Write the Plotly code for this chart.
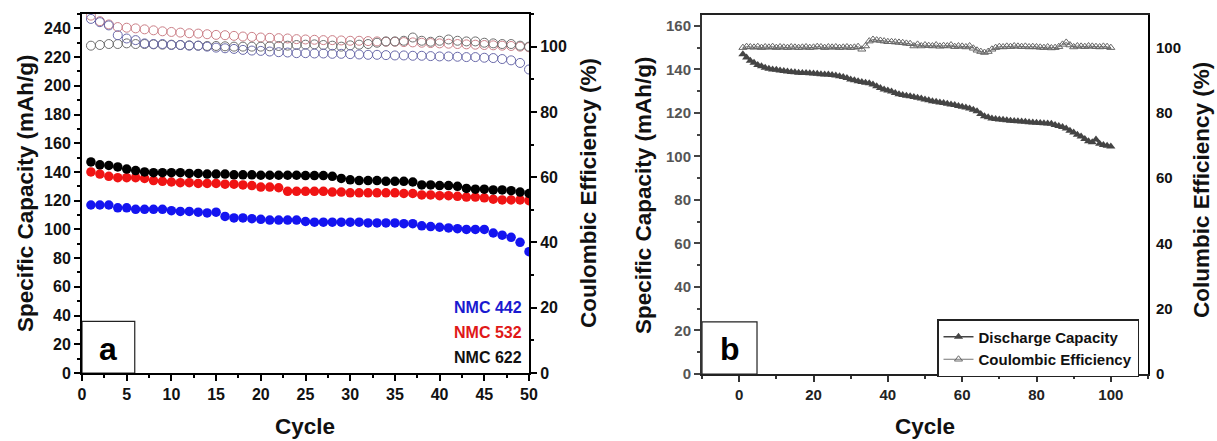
import plotly.graph_objects as go

# ---------------- Panel a data ----------------
cycles_a = list(range(1, 51))

cap_nmc442 = [117, 117, 117, 115, 115, 114, 114, 114, 114, 113,
              112.5, 112.5, 112, 111.5, 112, 109, 108, 108, 107.5, 107,
              106.5, 106.5, 106.5, 106.5, 105.5, 105, 105, 105, 105, 105,
              105, 104.5, 104.5, 104.5, 104.5, 104, 104, 102.5, 102, 101.5,
              101, 100.5, 100, 100, 100, 97.5, 96, 94.5, 91, 84.5]

cap_nmc532 = [140, 138.5, 137, 136, 136, 136, 135.5, 134, 133.5, 133,
              132.5, 132.5, 132, 132, 132, 131.5, 131.5, 131, 130.5, 129.5,
              129.5, 129, 126.5, 126.5, 126.5, 126.5, 126.5, 126, 126, 125.5,
              125.5, 125.5, 125.5, 125.5, 125.5, 125, 125, 124, 124, 123.5,
              123.5, 123, 122.5, 122.5, 122, 121, 120.5, 120.5, 120.5, 120]

cap_nmc622 = [147, 145, 144.5, 143.5, 142, 141, 140, 139.5, 139.5, 139.5,
              139.5, 139, 139, 138.5, 138.5, 138.5, 138, 138, 138, 137.7,
              137.7, 137.7, 137.7, 137.7, 137.5, 137.5, 137.5, 137, 135.5, 134.5,
              134, 134, 134, 133.5, 133.5, 133.5, 133, 131, 131, 130.5,
              130.5, 130, 128.5, 128, 128, 127.5, 127.5, 127, 126, 125]

ce_nmc442 = [108.5, 107.5, 106.5, 103.5, 102.5, 102, 101, 100.8, 100.8, 100.5,
             100.5, 100.3, 100.3, 100, 99.7, 99.5, 99.3, 99, 98.8, 98.7,
             98.5, 98.3, 98.2, 98, 98, 97.9, 97.9, 97.8, 97.8, 97.7,
             97.6, 97.5, 97.5, 97.4, 97.3, 97.3, 97.2, 97.2, 97.1, 97,
             97, 96.9, 96.8, 96.8, 96.6, 96.5, 96.2, 95.8, 95, 93]

ce_nmc532 = [109.5, 107.8, 106.8, 106, 105.8, 105.6, 105.3, 105, 104.7, 104.5,
             104.3, 104.1, 104, 103.8, 103.6, 103.5, 103.3, 103.1, 103, 102.8,
             102.7, 102.6, 102.5, 102.3, 102.2, 102.1, 102, 102, 101.9, 101.8,
             101.8, 101.7, 101.6, 101.5, 101.5, 101.4, 101.3, 101.2, 101.1, 101,
             100.9, 100.8, 100.7, 100.6, 100.5, 100.4, 100.3, 100.2, 100, 99.8]

ce_nmc622 = [100.3, 100.5, 100.8, 100.8, 101, 100.8, 100.8, 100.7, 100.6, 100.6,
             100.5, 100.4, 100.3, 100.2, 100.2, 100.1, 100, 100, 100, 100,
             100.1, 100.2, 100.3, 100.5, 100.6, 100.7, 100.5, 100.3, 100, 100.4,
             100.6, 100.8, 101.2, 101.6, 101.6, 101.8, 102.8, 101.8, 101.5, 101.8,
             102.2, 101.8, 101.6, 101.6, 101.2, 101, 100.8, 100.8, 100.3, 100]

# ---------------- Panel b data ----------------
cycles_b = list(range(1, 101))

discharge_b = [147, 145.5, 144, 143, 142, 141.5, 140.8, 140.3, 140, 139.8,
               139.5, 139.3, 139, 138.8, 138.7, 138.5, 138.4, 138.3, 138.2, 138.1,
               138, 137.8, 137.7, 137.6, 137.4, 137.2, 136.8, 136.5, 136, 135.4,
               135, 134.6, 134.2, 133.9, 133.6, 133, 132.3, 131.5, 130.8, 130.3,
               129.8, 129.2, 128.6, 128.2, 127.9, 127.6, 127.3, 127, 126.6, 126.2,
               125.8, 125.4, 125.1, 124.8, 124.5, 124.2, 123.9, 123.6, 123.2, 122.8,
               122.5, 122, 121.4, 120.8, 119.5, 118.5, 118, 117.4, 117.2, 117,
               116.8, 116.6, 116.4, 116.3, 116.2, 116, 115.9, 115.7, 115.6, 115.5,
               115.4, 115.2, 115.1, 115, 114.5, 114, 113.5, 112.8, 111.8, 111,
               110, 109.2, 108, 107, 106.5, 107.8, 105.8, 105.2, 104.9, 104.6]

ce_b = [100, 100.3, 100.2, 100.1, 100.3, 100, 100.2, 100.1, 100.3, 100,
        100.2, 100.1, 100, 100.2, 100.1, 100, 100.1, 100.2, 100, 100.1,
        100.3, 100.2, 100, 100.2, 100.1, 100.2, 100, 100.1, 100.2, 100,
        100.1, 100.3, 99.5, 100.5, 102, 102.5, 102.3, 102.2, 102, 101.8,
        101.8, 101.7, 101.6, 101.5, 101.3, 101.2, 100.5, 101, 100.5, 100.8,
        100.6, 100.5, 100.8, 100.4, 100.6, 100.5, 100.8, 100.3, 100.5, 100.4,
        100.2, 100.5, 99.8, 99.2, 98.8, 98.5, 98.8, 99.5, 100, 100.3,
        100.2, 100.4, 100.3, 100.5, 100.4, 100.3, 100.4, 100.2, 100.3, 100.2,
        100.1, 100, 100.2, 99.9, 100, 100.3, 101, 101.6, 100.8, 100.2,
        100.5, 100.4, 100.3, 100.5, 100.4, 100.3, 100.2, 100.4, 100.3, 100]

series_labels_a = ["NMC 442", "NMC 532", "NMC 622"]
legend_labels_b = ["Discharge Capacity", "Coulombic Efficiency"]

W, H = 1217, 441
FONT = "Arial, Liberation Sans, sans-serif"


def px(x):
    return x / W


def py(y):
    return 1 - y / H


fig = go.Figure()

# Panel a: open circles (CE, right axis)
for vals, col in [(ce_nmc532, "#cc8088"), (ce_nmc622, "#6e6e6e"), (ce_nmc442, "#6a6aaa")]:
    fig.add_trace(go.Scatter(x=cycles_a, y=vals, mode="markers", xaxis="x", yaxis="y2",
                             marker=dict(symbol="circle-open", size=9, color=col,
                                         line=dict(width=1, color=col)),
                             showlegend=False, cliponaxis=True))

# Panel a: filled circles (capacity, left axis)
for vals, col in [(cap_nmc442, "#1414f0"), (cap_nmc532, "#f01414"), (cap_nmc622, "#000000")]:
    fig.add_trace(go.Scatter(x=cycles_a, y=vals, mode="markers", xaxis="x", yaxis="y",
                             marker=dict(symbol="circle", size=9.5, color=col),
                             showlegend=False, cliponaxis=True))

# Panel b
fig.add_trace(go.Scatter(x=cycles_b, y=discharge_b, mode="lines+markers", xaxis="x2", yaxis="y3",
                         name=legend_labels_b[0],
                         line=dict(color="#444444", width=1.5),
                         marker=dict(symbol="triangle-up", size=8, color="#444444"),
                         showlegend=True))
fig.add_trace(go.Scatter(x=cycles_b, y=ce_b, mode="lines+markers", xaxis="x2", yaxis="y4",
                         name=legend_labels_b[1],
                         line=dict(color="#777777", width=1),
                         marker=dict(symbol="triangle-up-open", size=7, color="#666666",
                                     line=dict(width=1, color="#666666")),
                         showlegend=True))

tickfont_a = dict(family=FONT, size=16, color="#111111", weight="bold")
tickfont_bl = dict(family=FONT, size=15, color="#555555", weight="bold")
tickfont_bx = dict(family=FONT, size=15, color="#222222", weight="bold")

common_axis = dict(showgrid=False, zeroline=False, showline=True, linecolor="#000000",
                   linewidth=2, ticks="outside", ticklen=6, tickwidth=2, tickcolor="#000000",
                   automargin=False)

fig.update_layout(
    width=W, height=H,
    margin=dict(l=0, r=0, t=0, b=0, autoexpand=False),
    paper_bgcolor="white", plot_bgcolor="white",
    xaxis=dict(domain=[px(82), px(529)], range=[0, 50], dtick=5, tick0=0,
               tickfont=tickfont_a, mirror=True, anchor="y",
               minor=dict(ticks="outside", dtick=2.5, ticklen=3, tickwidth=1.5, tickcolor="#000"),
               **common_axis),
    yaxis=dict(domain=[py(373), py(14)], range=[0, 250], dtick=20, tick0=0,
               tickfont=tickfont_a, anchor="x",
               minor=dict(ticks="outside", dtick=10, ticklen=3, tickwidth=1.5, tickcolor="#000"),
               **common_axis),
    yaxis2=dict(overlaying="y", side="right", anchor="x", range=[0, 110], dtick=20, tick0=0,
                tickfont=tickfont_a,
                minor=dict(ticks="outside", dtick=10, ticklen=3, tickwidth=1.5, tickcolor="#000"),
                **common_axis),
    xaxis2=dict(domain=[px(702), px(1148)], range=[-10, 110], dtick=20, tick0=0,
                tickfont=tickfont_bx, mirror=True, anchor="y3", automargin=False,
                minor=dict(ticks="outside", dtick=10, ticklen=3, tickwidth=1.5, tickcolor="#333"),
                showgrid=False, zeroline=False, showline=True, linecolor="#222222",
                linewidth=2, ticks="outside", ticklen=6, tickwidth=2, tickcolor="#333333"),
    yaxis3=dict(domain=[py(374), py(15)], range=[0, 165], dtick=20, tick0=0,
                tickfont=tickfont_bl, anchor="x2", automargin=False,
                minor=dict(ticks="outside", dtick=10, ticklen=3, tickwidth=1.5, tickcolor="#444"),
                showgrid=False, zeroline=False, showline=True, linecolor="#333333",
                linewidth=2, ticks="outside", ticklen=6, tickwidth=2, tickcolor="#444444"),
    yaxis4=dict(overlaying="y3", side="right", anchor="x2", range=[0, 110], dtick=20, tick0=0,
                tickfont=dict(family=FONT, size=15, color="#111111", weight="bold"),
                showgrid=False, zeroline=False, showline=True, linecolor="#000000",
                linewidth=2, ticks="", ticklabelstandoff=3, automargin=False),
    legend=dict(x=px(1139), y=py(319), xanchor="right", yanchor="top",
                bgcolor="white", bordercolor="#222222", borderwidth=1.5,
                font=dict(family=FONT, size=15, color="#111111", weight="bold"),
                tracegroupgap=0, itemwidth=30),
    showlegend=True,
)

# Panel label boxes
fig.add_shape(type="rect", xref="x", yref="y", x0=0, x1=5.9, y0=0, y1=36,
              line=dict(color="#222222", width=1.2), fillcolor="white", layer="above")
fig.add_shape(type="rect", xref="x2", yref="y3", x0=-10, x1=4.8, y0=0, y1=24,
              line=dict(color="#222222", width=1.2), fillcolor="white", layer="above")

annos = []
annos.append(dict(x=2.95, y=17, xref="x", yref="y", text="a", showarrow=False,
                  xanchor="center", yanchor="middle",
                  font=dict(family=FONT, size=32, color="#000", weight="bold")))
annos.append(dict(x=-2.6, y=11.5, xref="x2", yref="y3", text="b", showarrow=False,
                  xanchor="center", yanchor="middle",
                  font=dict(family=FONT, size=32, color="#000", weight="bold")))

# NMC labels (panel a)
for lab, yv, col in [(series_labels_a[0], 20, "#1a1ad0"), (series_labels_a[1], 12.3, "#e01818"),
                     (series_labels_a[2], 4.9, "#111111")]:
    annos.append(dict(x=49.4, y=yv, xref="x", yref="y2", text=lab, showarrow=False,
                      xanchor="right", yanchor="middle",
                      font=dict(family=FONT, size=16, color=col, weight="bold")))

title_font = dict(family=FONT, size=22.5, color="#111111", weight="bold")
for txt, xx, yy, ang in [
    ("Specific Capacity (mAh/g)", 25, 193, -90),
    ("Coulombic Efficiency (%)", 588, 193, -90),
    ("Cycle", 305, 426, 0),
    ("Specific Capacity (mAh/g)", 643, 195, -90),
    ("Columbic Efficiency (%)", 1202, 190, -90),
    ("Cycle", 925, 426, 0),
]:
    annos.append(dict(x=px(xx), y=py(yy), xref="paper", yref="paper", text=txt,
                      textangle=ang, showarrow=False, xanchor="center", yanchor="middle",
                      font=title_font))
fig.update_layout(annotations=annos)

fig.write_html("out.html", config={"displayModeBar": False},
               post_script="document.body.style.margin='0px';document.body.style.overflow='hidden';")
